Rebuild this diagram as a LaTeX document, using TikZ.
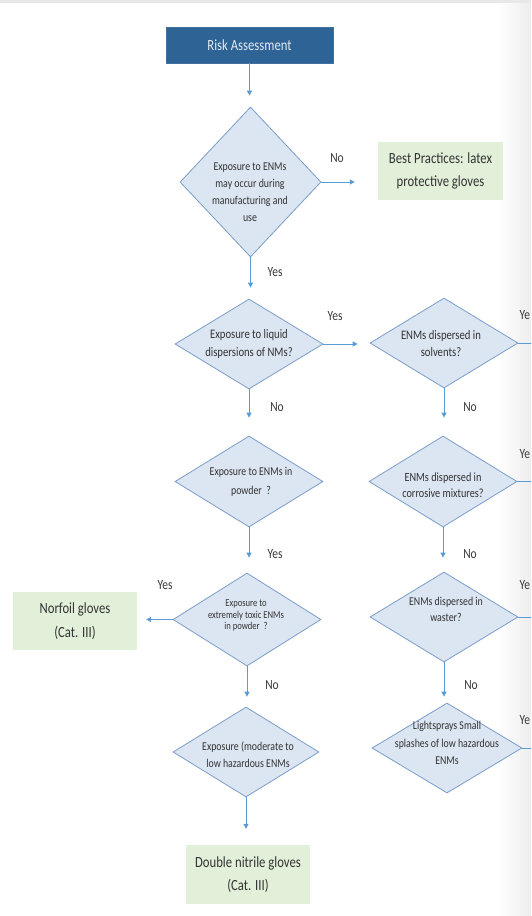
\documentclass[tikz,border=0pt]{standalone}
\usepackage{fontspec}
\setmainfont{Carlito}[FakeStretch=0.82]
\usetikzlibrary{shapes.geometric,arrows.meta}
\definecolor{titlefill}{HTML}{2E6396}
\definecolor{titleborder}{HTML}{41719C}
\definecolor{titletext}{HTML}{E4EAF2}
\definecolor{diafill}{HTML}{DCE6F2}
\definecolor{diaborder}{HTML}{7A9DCA}
\definecolor{arrc}{HTML}{5B9BD5}
\definecolor{greenfill}{HTML}{E2EFD9}
\definecolor{txtc}{HTML}{333333}
\definecolor{labc}{HTML}{3A3A3A}
\definecolor{stripc}{HTML}{E8E8E8}
\definecolor{shadowc}{HTML}{EDEDED}
\tikzset{
  dia/.style={diamond, draw=diaborder, fill=diafill, line width=0.8pt, inner sep=0pt},
  dtext/.style={align=center, inner sep=0pt, text=txtc, font=\fontsize{12}{17}\selectfont},
  lab/.style={inner sep=0pt, text=labc, font=\fontsize{14}{16}\selectfont},
  gbox/.style={fill=greenfill, align=center, inner sep=0pt, text=txtc, font=\fontsize{15.5}{23.5}\selectfont},
  arr/.style={draw=arrc, line width=1pt, -{Triangle[length=5pt,width=5pt]}},
  plain/.style={draw=arrc, line width=1pt}
}
\begin{document}
\begin{tikzpicture}[x=1pt,y=-1pt]
\useasboundingbox (0,0) rectangle (531,916);
\clip (0,0) rectangle (531,916);
% background
\fill[white] (0,0) rectangle (531,916);
\shade[left color=white, right color=shadowc] (498,0) rectangle (531,916);
\fill[stripc] (0,0) rectangle (531,3);

% title
\node[fill=titlefill, draw=titleborder, line width=0.8pt, minimum width=167pt, minimum height=36pt, inner sep=0pt,
      text=titletext, font=\fontsize{15.5}{18}\selectfont] (title) at (249.5,45) {Risk Assessment};

% left column diamonds
\node[dia, minimum width=141pt, minimum height=150pt] (d1) at (250.5,182) {};
\node[dia, minimum width=148pt, minimum height=90pt] (d2) at (249,344) {};
\node[dia, minimum width=148pt, minimum height=91pt] (d3) at (249,481.5) {};
\node[dia, minimum width=148pt, minimum height=93pt] (d4) at (247,619.5) {};
\node[dia, minimum width=146pt, minimum height=90pt] (d5) at (246,752) {};
% right column diamonds
\node[dia, minimum width=148pt, minimum height=90pt] (r1) at (444,343) {};
\node[dia, minimum width=148pt, minimum height=91pt] (r2) at (443,481.5) {};
\node[dia, minimum width=148pt, minimum height=90pt] (r3) at (444,617) {};
\node[dia, minimum width=150pt, minimum height=90pt] (r4) at (447,748) {};

% diamond texts
\node[dtext] (t1) at (250,192) {Exposure to ENMs\\may occur during\\manufacturing and\\use};
\node[dtext, font=\fontsize{13}{18}\selectfont] (t2) at (249,344) {Exposure to liquid\\dispersions of NMs?};
\node[dtext, font=\fontsize{12}{19}\selectfont] (t3) at (251,482) {Exposure to ENMs in\\powder \ ?};
\node[dtext, font=\fontsize{10.5}{11.8}\selectfont] (t4) at (246,615.5) {Exposure to\\extremely toxic ENMs\\in powder \ ?};
\node[dtext] (t5) at (248,755) {Exposure (moderate to\\low hazardous ENMs};
\node[dtext, font=\fontsize{13}{17}\selectfont] (tr1) at (441,344) {ENMs dispersed in\\solvents?};
\node[dtext, font=\fontsize{12.5}{16}\selectfont] (tr2) at (443,485) {ENMs dispersed in\\corrosive mixtures?};
\node[dtext, font=\fontsize{12}{16}\selectfont] (tr3) at (446,609) {ENMs dispersed in\\waster?};
\node[dtext, font=\fontsize{12}{17.5}\selectfont] (tr4) at (447,743) {Lightsprays Small\\splashes of low hazardous\\ENMs};

% green result boxes
\node[gbox, minimum width=125pt, minimum height=58pt] (best) at (440.5,171) {Best Practices: latex\\protective gloves};
\node[gbox, minimum width=124pt, minimum height=58pt] (norfoil) at (75,621) {Norfoil gloves\\(Cat. III)};
\node[gbox, minimum width=124pt, minimum height=59pt] (double) at (248,874.5) {Double nitrile gloves\\(Cat. III)};

% connectors
\draw[arr, shorten >=11pt] (title.south) -- (title.south |- d1.north);
\draw[arr, shorten >=23pt] (d1.east) -- (d1.east -| best.west);
\draw[arr, shorten >=11pt] (d1.south) -- (d1.south |- d2.north);
\draw[arr, shorten >=12pt] (d2.east) -- (d2.east -| r1.west);
\draw[arr, shorten >=18pt] (d2.south) -- (d2.south |- d3.north);
\draw[arr, shorten >=18pt] (r1.south) -- (r1.south |- r2.north);
\draw[arr, shorten >=15pt] (d3.south) -- (d3.south |- d4.north);
\draw[arr, shorten >=14pt] (r2.south) -- (r2.south |- r3.north);
\draw[arr, shorten >=9pt] (d4.west) -- (d4.west -| norfoil.east);
\draw[arr, shorten >=10pt] (d4.south) -- (d4.south |- d5.north);
\draw[arr, shorten >=6pt] (r3.south) -- (r3.south |- r4.north);
\draw[arr, shorten >=16pt] (d5.south) -- (d5.south |- double.north);
% lines leaving the right column (cut by the picture edge)
\coordinate (e1) at (545,343);
\coordinate (e2) at (545,481.5);
\coordinate (e3) at (545,617);
\coordinate (e4) at (545,748);
\draw[plain] (r1.east) -- (e1);
\draw[plain] (r2.east) -- (e2);
\draw[plain] (r3.east) -- (e3);
\draw[plain] (r4.east) -- (e4);

% labels
\node[lab] (l1) at (337,158) {No};
\node[lab] (l2) at (275,272) {Yes};
\node[lab] (l3) at (335,316) {Yes};
\node[lab] (l4) at (277,407) {No};
\node[lab] (l5) at (470,407) {No};
\node[lab] (l6) at (275,554) {Yes};
\node[lab] (l7) at (470,554) {No};
\node[lab] (l8) at (165,585) {Yes};
\node[lab] (l9) at (272,685) {No};
\node[lab] (l10) at (471,685) {No};
\node[lab, anchor=west] (l11) at (519.5,315) {Ye};
\node[lab, anchor=west] (l12) at (519.5,454) {Ye};
\node[lab, anchor=west] (l13) at (519.5,585) {Ye};
\node[lab, anchor=west] (l14) at (519.5,720) {Ye};
\end{tikzpicture}
\end{document}
